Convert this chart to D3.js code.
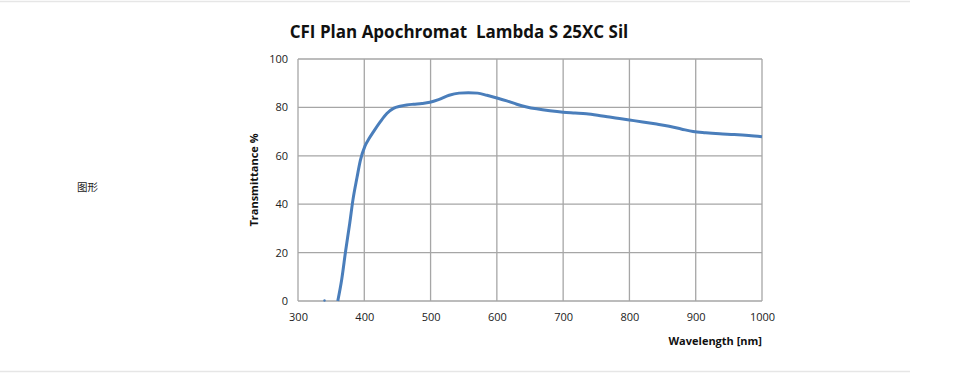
<html>
<head>
    <script src="https://d3js.org/d3.v7.min.js"></script>
    <style>
        body { margin: 0; background: #fff; }
    </style>
</head>
<body>
    <svg id="chartArea" width="963" height="378"></svg>
    <script>
        // transmittance curve
        const wavelengths = [360, 366, 372, 378, 383, 389, 394, 401, 407, 414, 424, 434, 444, 454, 464, 474, 487, 499, 512, 528, 543, 557, 571, 585, 600, 615, 630, 645, 660, 680, 700, 718, 735, 752, 770, 785, 800, 820, 841, 860, 878, 896, 915, 936, 958, 980, 1000];
        const transmittance = [0, 9, 21, 32, 42, 51, 58, 64, 67, 70, 74, 77.5, 79.6, 80.5, 81, 81.3, 81.6, 82.1, 83.2, 85, 85.9, 86.1, 85.9, 85, 83.9, 82.7, 81.3, 80.2, 79.4, 78.6, 78, 77.7, 77.4, 76.8, 76, 75.4, 74.8, 74, 73.1, 72.2, 71.1, 70, 69.5, 69.1, 68.8, 68.4, 67.9];
        const speckWavelengths = [340];
        const xTicks = [300, 400, 500, 600, 700, 800, 900, 1000];
        const yTicks = [0, 20, 40, 60, 80, 100];

        const svg = d3.select("#chartArea");
        const margins = { left: 298, right: 201, top: 59, bottom: 77 };
        const width = +svg.attr("width");
        const height = +svg.attr("height");

        // faint page rules
        svg.append("line").attr("x1", 0).attr("x2", 910).attr("y1", 1.5).attr("y2", 1.5)
            .attr("stroke", "#e6e6e6").attr("stroke-width", 1.5);
        svg.append("line").attr("x1", 0).attr("x2", 910).attr("y1", 371.5).attr("y2", 371.5)
            .attr("stroke", "#e6e6e6").attr("stroke-width", 1.5);

        svg.append("text").attr("x", 77).attr("y", 191)
            .attr("font-family", "Noto Sans CJK SC").attr("font-size", 10.5)
            .attr("fill", "#222").text("图形");

        const xScale = d3.scaleLinear().domain([300, 1000]).range([margins.left, width - margins.right]);
        const yScale = d3.scaleLinear().domain([0, 100]).range([height - margins.bottom, margins.top]);

        const grid = svg.append("g").attr("stroke", "#a6a6a6").attr("stroke-width", 1.3);
        grid.selectAll("line.v").data(xTicks).join("line").attr("class", "v")
            .attr("x1", d => xScale(d)).attr("x2", d => xScale(d))
            .attr("y1", yScale(100)).attr("y2", yScale(0));
        grid.selectAll("line.h").data(yTicks).join("line").attr("class", "h")
            .attr("x1", xScale(300)).attr("x2", xScale(1000))
            .attr("y1", d => yScale(d)).attr("y2", d => yScale(d));

        const font = "Open Sans, sans-serif";
        const xAxis = d3.axisBottom(xScale).tickValues(xTicks).tickFormat(d3.format("d")).tickSize(0).tickPadding(12);
        svg.append("g").attr("transform", `translate(0,${yScale(0)})`).call(xAxis)
            .call(g => g.select(".domain").remove())
            .selectAll("text").attr("font-family", font).attr("font-size", 11).attr("fill", "#222");
        const yAxis = d3.axisLeft(yScale).tickValues(yTicks).tickSize(0).tickPadding(10);
        svg.append("g").attr("transform", `translate(${xScale(300)},0)`).call(yAxis)
            .call(g => g.select(".domain").remove())
            .selectAll("text").attr("font-family", font).attr("font-size", 11).attr("fill", "#222");

        const points = wavelengths.map((w, i) => [w, transmittance[i]]);
        const line = d3.line().x(d => xScale(d[0])).y(d => yScale(d[1])).curve(d3.curveMonotoneX);
        svg.append("path").datum(points).attr("d", line)
            .attr("fill", "none").attr("stroke", "#4a7ebb").attr("stroke-width", 3)
            .attr("stroke-linejoin", "round");
        svg.selectAll("circle.speck").data(speckWavelengths).join("circle").attr("class", "speck")
            .attr("cx", d => xScale(d)).attr("cy", yScale(0) - 0.5).attr("r", 1.2).attr("fill", "#4a7ebb");

        svg.append("text").attr("x", 459).attr("y", 38).attr("text-anchor", "middle")
            .attr("font-family", font).attr("font-weight", "bold").attr("font-size", 17)
            .attr("fill", "#111").style("white-space", "pre")
            .text("CFI Plan Apochromat  Lambda S 25XC Sil");

        svg.append("text").attr("transform", `translate(258,${(yScale(0) + yScale(100)) / 2}) rotate(-90)`)
            .attr("text-anchor", "middle").attr("font-family", font).attr("font-weight", "bold")
            .attr("font-size", 11).attr("fill", "#111").text("Transmittance %");
        svg.append("text").attr("x", xScale(1000)).attr("y", 345).attr("text-anchor", "end")
            .attr("font-family", font).attr("font-weight", "bold").attr("font-size", 11)
            .attr("fill", "#111").text("Wavelength [nm]");
    </script>
</body>
</html>
